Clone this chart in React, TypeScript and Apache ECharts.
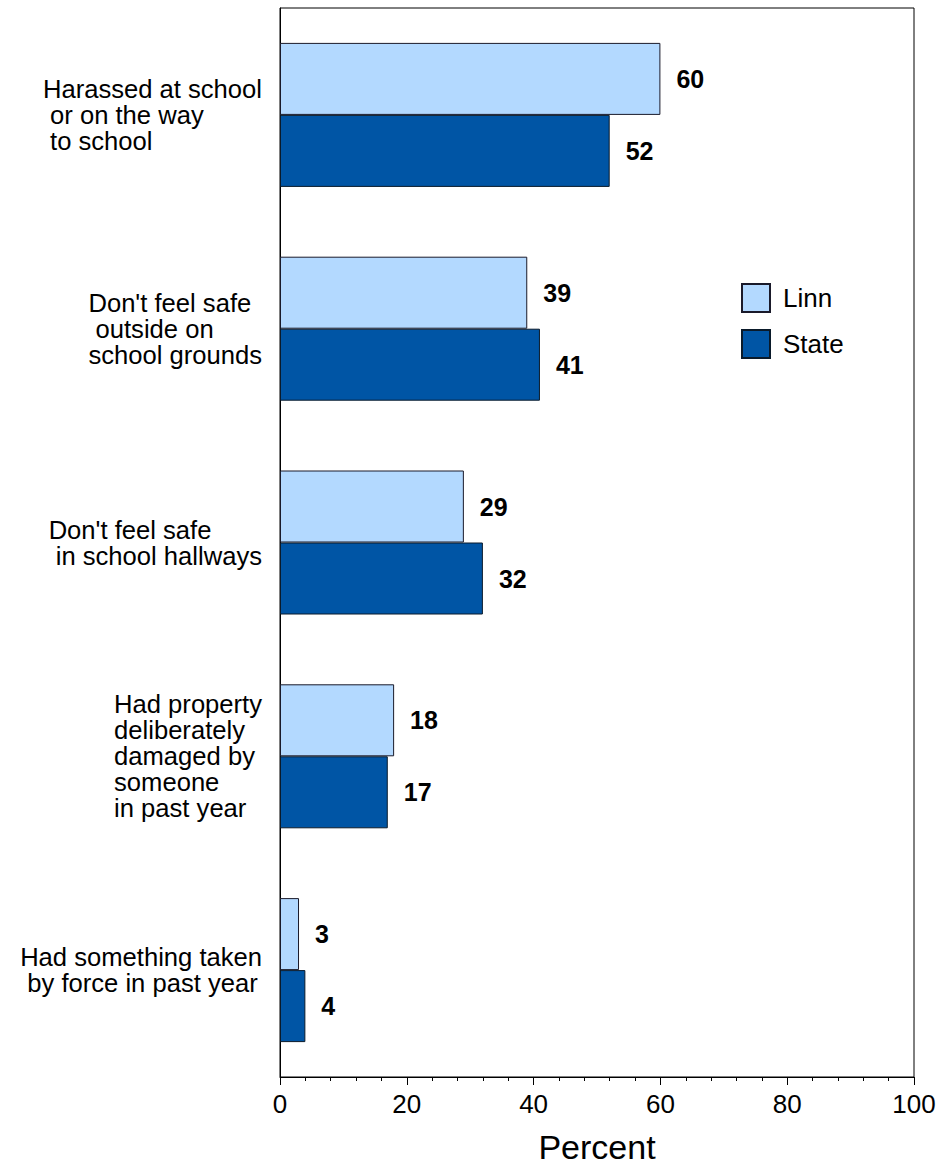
import React, { useEffect, useRef } from "react";
import * as echarts from "echarts";

const categories: string[][] = [
  ["Harassed at school", " or on the way", " to school"],
  ["Don't feel safe", " outside on", "school grounds"],
  ["Don't feel safe", " in school hallways"],
  ["Had property", "deliberately", "damaged by", "someone", "in past year"],
  ["Had something taken", " by force in past year"],
];
const linnValues = [60, 39, 29, 18, 3];
const stateValues = [52, 41, 32, 17, 4];
const seriesNames = ["Linn", "State"];
const xTicks = [0, 20, 40, 60, 80, 100];

const FONT = "'Liberation Sans', Arial, sans-serif";

export default function App() {
  const ref = useRef<HTMLDivElement>(null);
  useEffect(() => {
    if (!ref.current) return;
    const chart = echarts.init(ref.current, null, { renderer: "svg" });
    const catKeys = categories.map((_, i) => "c" + i);
    const labelFmt = (v: string) => {
      const idx = catKeys.indexOf(v);
      return categories[idx].map((l) => "{l|" + l + "}").join("\n");
    };
    const valueLabel = {
      show: true,
      position: "right" as const,
      distance: 16,
      color: "#000",
      fontFamily: FONT,
      fontWeight: "bold" as const,
      fontSize: 25,
    };
    chart.setOption({
      animation: false,
      backgroundColor: "#fff",
      textStyle: { fontFamily: FONT },
      grid: {
        left: 280,
        right: 31,
        top: 8,
        bottom: 74,
        show: true,
        borderColor: "#000",
        borderWidth: 1,
        backgroundColor: "transparent",
      },
      legend: {
        orient: "vertical",
        left: 741,
        top: 283,
        padding: 0,
        itemWidth: 28,
        itemHeight: 28,
        itemGap: 16,
        icon: "rect",
        data: seriesNames,
        textStyle: {
          fontFamily: FONT,
          fontSize: 26,
          color: "#000",
          padding: [0, 0, 0, 8],
        },
      },
      xAxis: {
        type: "value",
        min: xTicks[0],
        max: xTicks[xTicks.length - 1],
        interval: 20,
        name: "Percent",
        nameLocation: "middle",
        nameGap: 53,
        nameTextStyle: { fontFamily: FONT, fontSize: 34, color: "#000" },
        axisLine: { show: true, lineStyle: { color: "#000", width: 1 } },
        axisTick: { show: true, length: 8, lineStyle: { color: "#000" } },
        minorTick: { show: true, splitNumber: 5, length: 4, lineStyle: { color: "#000" } },
        splitLine: { show: false },
        axisLabel: { fontFamily: FONT, fontSize: 26, color: "#000", margin: 14 },
      },
      yAxis: {
        type: "category",
        inverse: true,
        data: catKeys,
        axisLine: { show: true, lineStyle: { color: "#000", width: 1 } },
        axisTick: { show: false },
        splitLine: { show: false },
        axisLabel: {
          formatter: labelFmt,
          align: "right",
          margin: 18,
          fontFamily: FONT,
          fontSize: 25.6,
          lineHeight: 26,
          color: "#000",
          rich: {
            l: { align: "left", fontFamily: FONT, fontSize: 25.6, lineHeight: 26, color: "#000" },
          },
        },
      },
      series: [
        {
          name: seriesNames[0],
          type: "bar",
          data: linnValues,
          barWidth: 72,
          barGap: "0%",
          itemStyle: { color: "#b3d9ff", borderColor: "#1a1a2a", borderWidth: 1 },
          label: valueLabel,
        },
        {
          name: seriesNames[1],
          type: "bar",
          data: stateValues,
          barWidth: 72,
          barGap: "0%",
          itemStyle: { color: "#0055a5", borderColor: "#0a1a2a", borderWidth: 1 },
          label: valueLabel,
        },
      ],
    });
    return () => chart.dispose();
  }, []);
  return (
    <div
      ref={ref}
      style={{ position: "absolute", left: 0, top: 0, width: 945, height: 1169 }}
    />
  );
}
